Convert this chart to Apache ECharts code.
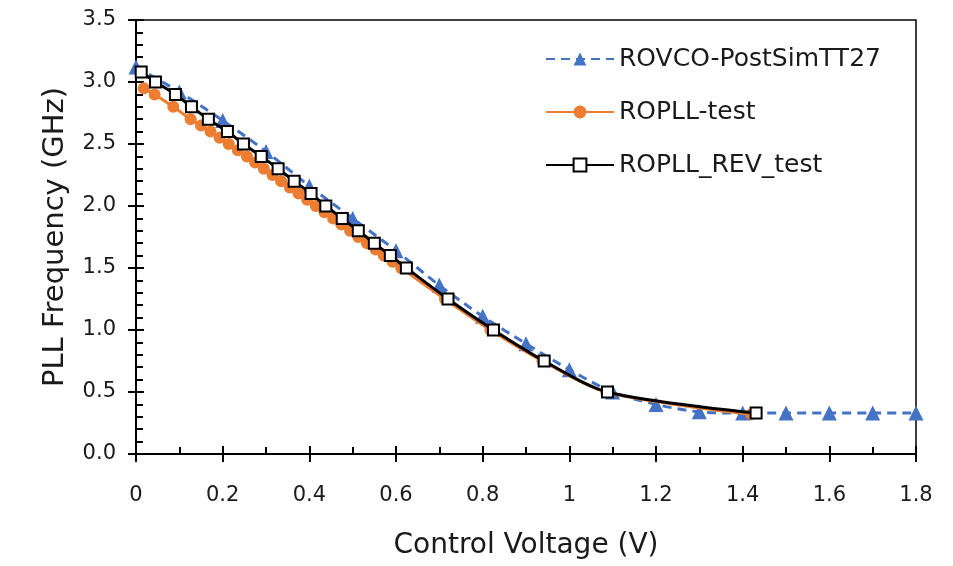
<!DOCTYPE html>
<html>
<head>
<meta charset="utf-8">
<script src="https://cdn.jsdelivr.net/npm/echarts@6/dist/echarts.min.js"></script>
<style>
html,body{margin:0;padding:0;background:#fff;}
#chart{width:953px;height:566px;}
</style>
</head>
<body>
<div id="chart"></div>
<script>
// ROVCO-PostSimTT27 (blue, dashed, triangles)
const rovcoV = [0, 0.1, 0.2, 0.3, 0.4, 0.5, 0.6, 0.7, 0.8, 0.9, 1.0, 1.1, 1.2, 1.3, 1.4, 1.5, 1.6, 1.7, 1.8];
const rovcoF = [3.12, 2.92, 2.69, 2.44, 2.16, 1.90, 1.64, 1.36, 1.11, 0.89, 0.68, 0.50, 0.40, 0.34, 0.33, 0.33, 0.33, 0.33, 0.33];

// ROPLL-test (orange, circles)
const ropllV = [0.018, 0.043, 0.086, 0.126, 0.150, 0.172, 0.193, 0.214, 0.235, 0.256, 0.275, 0.295, 0.315, 0.335, 0.355, 0.375, 0.395, 0.415, 0.435, 0.455, 0.474, 0.494, 0.513, 0.533, 0.553, 0.572, 0.592, 0.612, 0.713, 0.818, 0.938, 1.085, 1.420];
const ropllF = [2.95, 2.90, 2.80, 2.70, 2.65, 2.60, 2.55, 2.50, 2.45, 2.40, 2.35, 2.30, 2.25, 2.20, 2.15, 2.10, 2.05, 2.00, 1.95, 1.90, 1.85, 1.80, 1.75, 1.70, 1.65, 1.60, 1.55, 1.50, 1.25, 1.00, 0.75, 0.50, 0.32];

// ROPLL_REV_test (black, open squares)
const revV = [0.012, 0.045, 0.091, 0.128, 0.167, 0.211, 0.248, 0.289, 0.328, 0.365, 0.404, 0.438, 0.476, 0.513, 0.550, 0.587, 0.624, 0.720, 0.825, 0.942, 1.088, 1.431];
const revF = [3.08, 3.00, 2.90, 2.80, 2.70, 2.60, 2.50, 2.40, 2.30, 2.20, 2.10, 2.00, 1.90, 1.80, 1.70, 1.60, 1.50, 1.25, 1.00, 0.75, 0.50, 0.33];

const seriesNames = ['ROVCO-PostSimTT27', 'ROPLL-test', 'ROPLL_REV_test'];
const xTitle = 'Control Voltage (V)';
const yTitle = 'PLL Frequency (GHz)';

function pairs(xs, ys) { return xs.map((x, i) => [x, ys[i]]); }

const FONT = '"DejaVu Sans", sans-serif';
const TXT = '#1a1a1a';
const chart = echarts.init(document.getElementById('chart'), null, {renderer: 'canvas'});

function tickStyle() { return {color: '#000', width: 2}; }

chart.setOption({
  animation: false,
  backgroundColor: '#fff',
  textStyle: {fontFamily: FONT},
  grid: {show: true, borderColor: '#000', borderWidth: 1.5, left: 136, right: 37, top: 20, bottom: 112,
         outerBoundsMode: 'none', containLabel: false},
  legend: {
    data: seriesNames,
    orient: 'vertical',
    left: 545,
    top: 43,
    padding: 0,
    itemWidth: 68,
    itemHeight: 16,
    itemGap: 21,
    textStyle: {fontFamily: FONT, fontSize: 25, color: TXT, lineHeight: 32},
  },
  xAxis: [{
    type: 'value', min: 0, max: 1.8, interval: 0.2, position: 'bottom',
    name: xTitle, nameLocation: 'middle', nameGap: 78,
    nameTextStyle: {fontFamily: FONT, fontSize: 28, color: TXT},
    axisLine: {show: true, onZero: false, lineStyle: tickStyle()},
    axisTick: {show: true, inside: true, length: 8, lineStyle: tickStyle()},
    minorTick: {show: true, splitNumber: 2, length: 7, lineStyle: tickStyle()},
    splitLine: {show: false},
    axisLabel: {show: true, fontFamily: FONT, fontSize: 21, color: TXT, margin: 31}
  }, {
    type: 'value', min: 0, max: 1.8, interval: 0.2, position: 'bottom', offset: 0,
    axisLine: {show: true, onZero: false, lineStyle: tickStyle()},
    axisTick: {show: true, inside: false, length: 8, lineStyle: tickStyle()},
    minorTick: {show: false},
    splitLine: {show: false},
    axisLabel: {show: false}
  }],
  yAxis: [{
    type: 'value', min: 0, max: 3.5, interval: 0.5, position: 'left',
    name: yTitle, nameLocation: 'middle', nameGap: 66,
    nameTextStyle: {fontFamily: FONT, fontSize: 29, color: TXT},
    axisLine: {show: true, onZero: false, lineStyle: tickStyle()},
    axisTick: {show: true, inside: true, length: 8, lineStyle: tickStyle()},
    minorTick: {show: true, splitNumber: 5, length: 7, lineStyle: tickStyle()},
    splitLine: {show: false},
    axisLabel: {show: true, fontFamily: FONT, fontSize: 21, color: TXT, margin: 20,
      formatter: v => v.toFixed(1)}
  }, {
    type: 'value', min: 0, max: 3.5, interval: 0.5, position: 'left', offset: 0,
    axisLine: {show: true, onZero: false, lineStyle: tickStyle()},
    axisTick: {show: true, inside: false, length: 8, lineStyle: tickStyle()},
    minorTick: {show: false},
    splitLine: {show: false},
    axisLabel: {show: false}
  }],
  series: [{
    name: seriesNames[0], type: 'line',
    data: pairs(rovcoV, rovcoF),
    smooth: 0.3,
    symbol: 'triangle', symbolSize: 15,
    itemStyle: {color: '#4472C4'},
    lineStyle: {color: '#4472C4', width: 3, type: [9, 6]},
    z: 2
  }, {
    name: seriesNames[1], type: 'line',
    data: pairs(ropllV, ropllF),
    smooth: 0.3,
    symbol: 'circle', symbolSize: 12,
    itemStyle: {color: '#ED7D31'},
    lineStyle: {color: '#ED7D31', width: 3},
    z: 3
  }, {
    name: seriesNames[2], type: 'line',
    data: pairs(revV, revF),
    smooth: 0.3,
    symbol: 'rect', symbolSize: 11,
    itemStyle: {color: '#fff', borderColor: '#000', borderWidth: 2},
    lineStyle: {color: '#000', width: 3},
    z: 4
  }]
});
</script>
</body>
</html>
